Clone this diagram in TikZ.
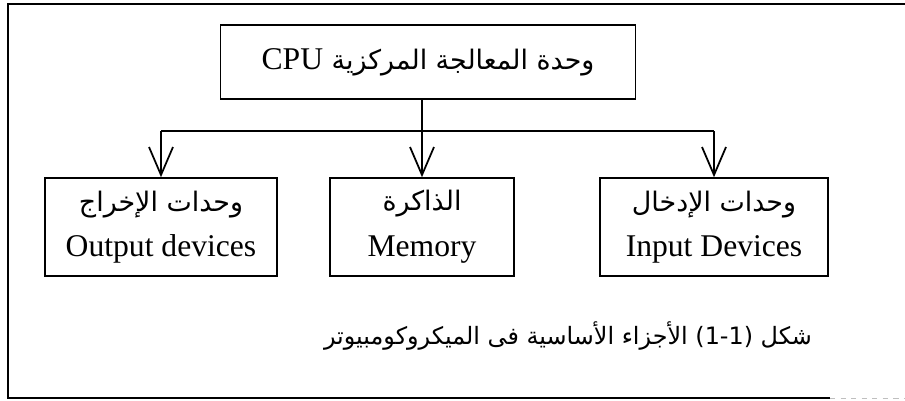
\documentclass[tikz,border=0pt]{standalone}
\usepackage{fontspec}
\setmainfont{Liberation Serif}
\newfontfamily\arabicfont[Script=Arabic,Scale=0.85]{DejaVu Sans}
\TeXXeTstate=1
\usetikzlibrary{arrows.meta}
\begin{document}
\begin{tikzpicture}[x=0.02cm,y=-0.02cm]
  \tikzset{ blk/.style={draw,line width=0.9pt,inner sep=0pt,align=center,font=\fontsize{18}{26}\selectfont},
    arr/.style={line width=1pt,-{Straight Barb[length=0.56cm,width=0.48cm,line width=1pt]}},
  }
  \useasboundingbox (0,0) rectangle (905,400);
  % frame
  \draw[line width=1.4pt] (905,4) -- (8,4) -- (8,398) -- (830,398);
  \draw[gray!50,dashed] (830,398) -- (905,398);

  \node[blk,minimum width=8.3cm,minimum height=1.48cm] (cpu) at (428,62) {\arabicfont\beginR وحدة المعالجة المركزية \beginL\rmfamily CPU\endL\endR};
  \node[blk,minimum width=4.64cm,minimum height=1.96cm] (out) at (161,227) {{\arabicfont\beginR وحدات الإخراج\endR}\\Output devices};
  \node[blk,minimum width=3.68cm,minimum height=1.96cm] (mem) at (422,227) {{\arabicfont\beginR الذاكرة\endR}\\Memory};
  \node[blk,minimum width=4.56cm,minimum height=1.96cm] (in) at (714,227) {{\arabicfont\beginR وحدات الإدخال\endR}\\Input Devices};

  \node[font=\fontsize{16}{20}\selectfont] (cap) at (568,336) {\arabicfont\beginR شكل (1-1) الأجزاء الأساسية فى الميكروكومبيوتر\endR};

  \coordinate (bus) at (423,131);
  \draw[line width=1pt] (out.north |- bus) -- (in.north |- bus);
  \draw[arr] (cpu.south -| mem.north) -- (mem.north);
  \draw[arr] (out.north |- bus) -- (out.north);
  \draw[arr] (in.north |- bus) -- (in.north);
\end{tikzpicture}
\end{document}
